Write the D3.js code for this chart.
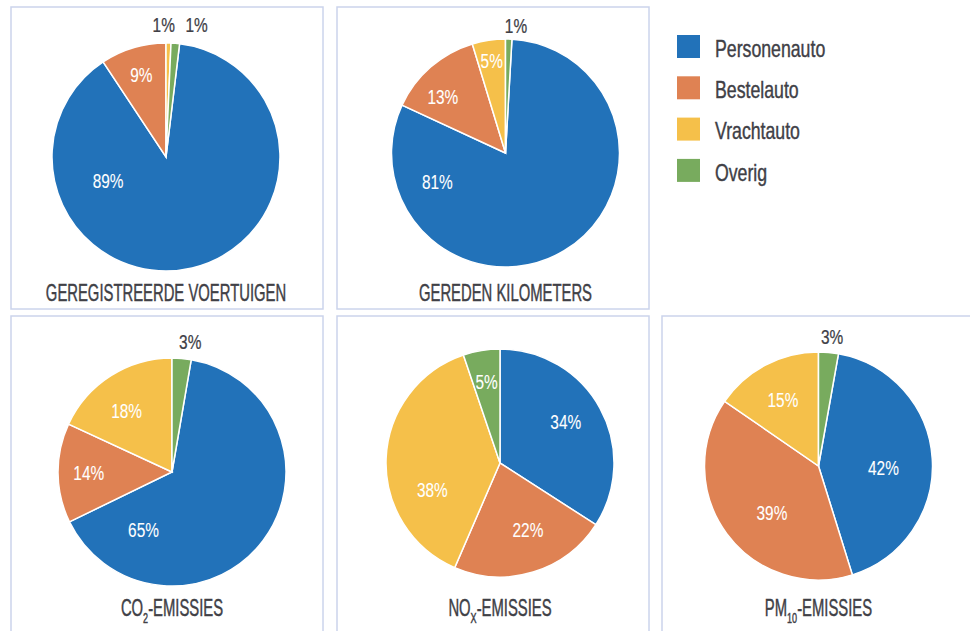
<!DOCTYPE html>
<html>
<head>
<meta charset="utf-8">
<script src="https://cdn.jsdelivr.net/npm/d3@7"></script>
<style>
  body { margin: 0; background: #fff; }
  text { font-family: "Liberation Sans", Arial, sans-serif; }
</style>
</head>
<body>
<script>
// categories and colours (legend order)
var categories = ["Personenauto", "Bestelauto", "Vrachtauto", "Overig"];
var colors = ["#2272b9", "#df8253", "#f5c04a", "#78ab5e"];

// chart titles, {..} = subscript
var titles = ["GEREGISTREERDE VOERTUIGEN", "GEREDEN KILOMETERS",
              "CO{2}-EMISSIES", "NO{X}-EMISSIES", "PM{10}-EMISSIES"];

// shares in percent, same order as categories
var registered = [88.8, 9.3, 0.7, 1.2];
var kilometers = [81.0, 13.4, 4.7, 0.9];
var co2        = [65.1, 14.1, 18.1, 2.7];
var nox        = [34.1, 22.4, 38.3, 5.2];
var pm10       = [42.4, 39.4, 15.4, 2.8];
var series = [registered, kilometers, co2, nox, pm10];

// how many of the last slices sit just right of 12 o'clock
var wrapped = [2, 1, 1, 0, 1];

// layout
var width = 970, height = 631, radius = 114;
var panels = [
    {x: 11,  y: 7,   w: 312, h: 302, cx: 166,   cy: 157, ty: 301},
    {x: 337, y: 7,   w: 312, h: 302, cx: 505.5, cy: 153, ty: 301},
    {x: 11,  y: 316, w: 312, h: 330, cx: 172,   cy: 472, ty: 616},
    {x: 337, y: 316, w: 312, h: 330, cx: 500,   cy: 463, ty: 616},
    {x: 662, y: 316, w: 330, h: 330, cx: 818.5, cy: 466, ty: 616}
];
// label placement tweaks (angle in degrees from 12 o'clock, k = fraction of radius)
var labelNudge = {
    "0-0": {a: 247.5, k: 0.55}, "0-1": {k: 0.75}, "0-2": {a: -1, k: 1.16}, "0-3": {a: 13, k: 1.19},
    "1-0": {a: 247, k: 0.65}, "1-1": {a: 312, k: 0.74}, "1-2": {k: 0.82}, "1-3": {a: 4.7, k: 1.12},
    "2-0": {a: 206, k: 0.57}, "2-1": {k: 0.73}, "2-2": {a: 323.5, k: 0.67}, "2-3": {a: 8, k: 1.15},
    "3-0": {a: 58, k: 0.68}, "3-1": {a: 157.5, k: 0.64}, "3-2": {a: 248, k: 0.64}, "3-3": {k: 0.72},
    "4-0": {a: 91.6, k: 0.57}, "4-1": {a: 224.8, k: 0.58}, "4-2": {a: 331.8, k: 0.66}, "4-3": {a: 6, k: 1.14}
};
var textColor = "#404046";

var svg = d3.select("body").append("svg")
    .attr("width", width)
    .attr("height", height);

var arc = d3.arc().innerRadius(0).outerRadius(radius);

series.forEach(function(values, ci) {
    var p = panels[ci];

    svg.append("rect")
        .attr("x", p.x).attr("y", p.y)
        .attr("width", p.w).attr("height", p.h)
        .attr("fill", "none")
        .attr("stroke", "#cbd4ec")
        .attr("stroke-width", 1.5);

    var data = values.map(function(v, i) { return {name: categories[i], v: v, i: i}; });
    var start = d3.sum(values.slice(values.length - wrapped[ci])) / d3.sum(values) * 2 * Math.PI;
    var pie = d3.pie().sort(null).value(function(d) { return d.v; })
        .startAngle(start).endAngle(start + 2 * Math.PI);
    var arcs = pie(data);

    var g = svg.append("g")
        .attr("transform", "translate(" + p.cx + "," + p.cy + ")");

    g.selectAll("path")
        .data(arcs)
        .enter().append("path")
        .attr("d", arc)
        .attr("fill", function(d) { return colors[d.data.i]; })
        .attr("stroke", "#fff")
        .attr("stroke-width", 1.5);

    // percentage labels
    arcs.forEach(function(d) {
        var nudge = labelNudge[ci + "-" + d.data.i] || {};
        var outside = d.data.v < 4 && nudge.k > 1;
        var ang = nudge.a !== undefined ? nudge.a * Math.PI / 180 : (d.startAngle + d.endAngle) / 2;
        var k = nudge.k !== undefined ? nudge.k : (d.data.v < 4 ? 1.14 : 0.7);
        var lx = Math.sin(ang) * radius * k,
            ly = -Math.cos(ang) * radius * k;
        var col = outside ? textColor : "#fff";
        g.append("text")
            .attr("transform", "translate(" + lx + "," + ly + ") scale(0.79,1)")
            .attr("text-anchor", "middle")
            .attr("dy", "0.36em")
            .style("font-size", "19.5px")
            .attr("fill", col)
            .attr("stroke", col)
            .attr("stroke-width", outside ? 0.25 : 0.1)
            .text(Math.round(d.data.v) + "%");
    });

    // title with optional subscript
    var t = svg.append("text")
        .attr("transform", "translate(" + p.cx + "," + p.ty + ") scale(0.645,1)")
        .attr("text-anchor", "middle")
        .style("font-size", "23px")
        .attr("fill", textColor)
        .attr("stroke", textColor)
        .attr("stroke-width", 0.45);
    var parts = titles[ci].split(/[{}]/);
    parts.forEach(function(s, j) {
        if (!s) return;
        var sub = j % 2 === 1;
        var ts = t.append("tspan").text(s);
        if (sub) {
            ts.style("font-size", "14px").attr("dy", 7);
        } else if (j > 0) {
            ts.attr("dy", -7);
        }
    });
});

// legend
var legend = svg.append("g")
    .attr("transform", "translate(677,35)");

categories.forEach(function(c, i) {
    var row = legend.append("g")
        .attr("transform", "translate(0," + (i * 41.3) + ")");
    row.append("rect")
        .attr("width", 23).attr("height", 23)
        .attr("fill", colors[i]);
    row.append("text")
        .attr("transform", "translate(38,21.7) scale(0.77,1)")
        .style("font-size", "23px")
        .attr("fill", textColor)
        .attr("stroke", textColor)
        .attr("stroke-width", 0.4)
        .text(c);
});
</script>
</body>
</html>
